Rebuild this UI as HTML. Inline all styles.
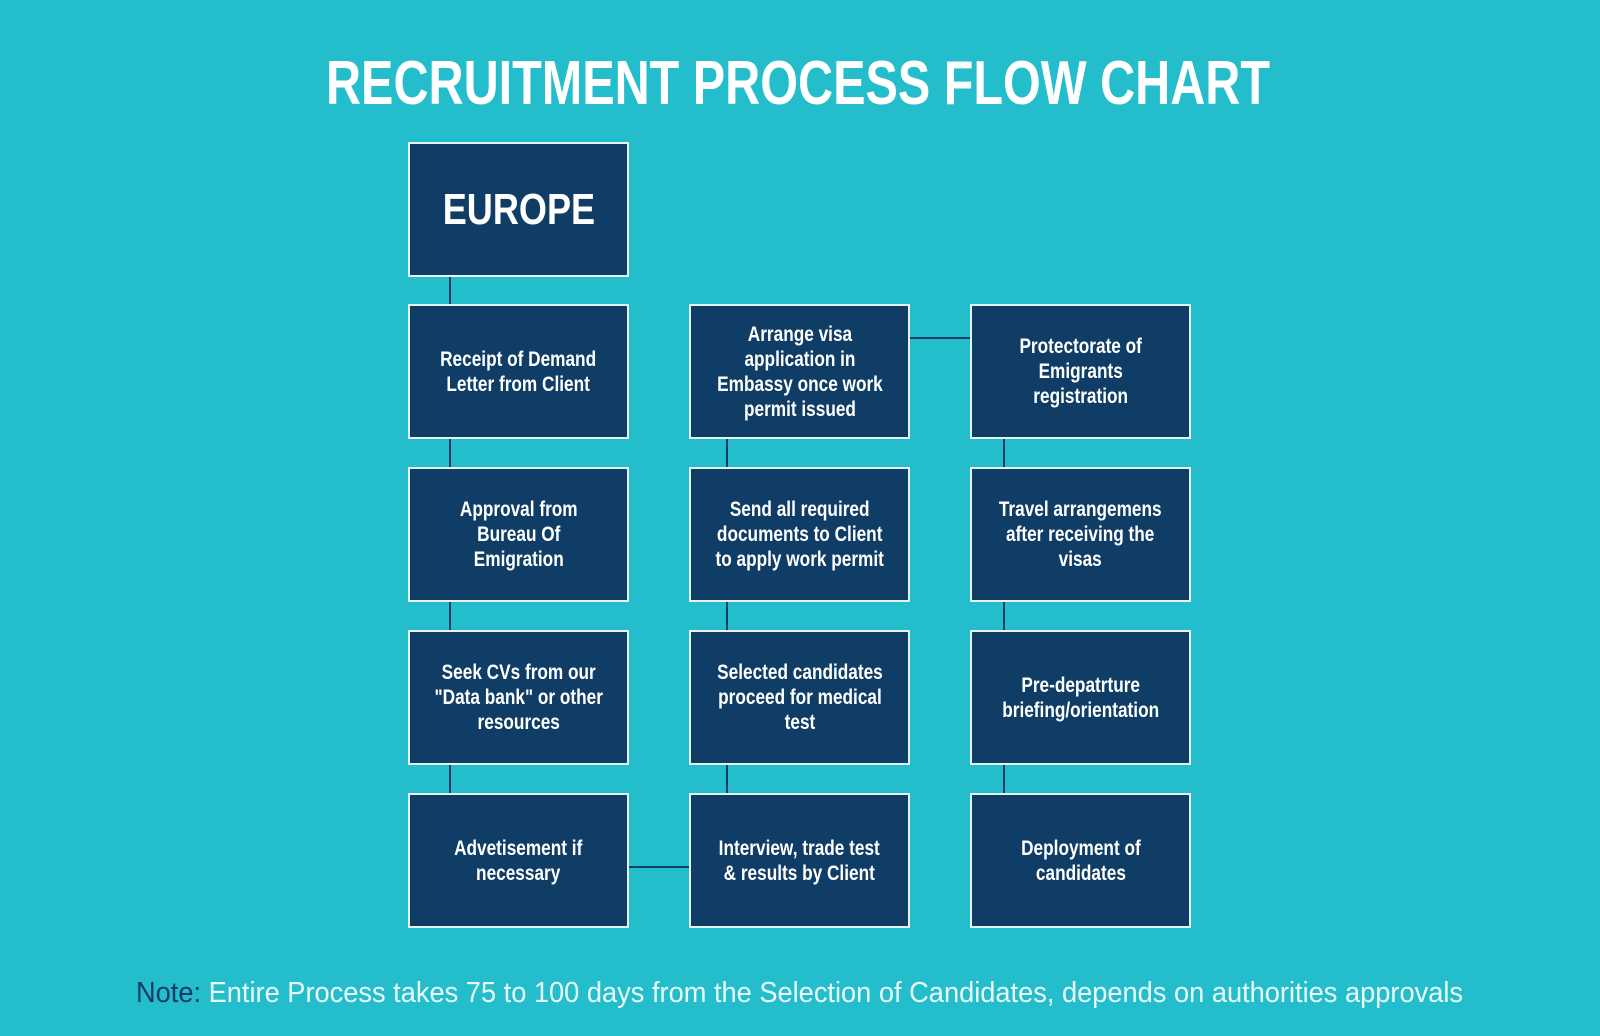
<!DOCTYPE html>
<html><head><meta charset="utf-8"><style>
html,body{margin:0;padding:0}
body{width:1600px;height:1036px;background:#24bdcc;position:relative;overflow:hidden;font-family:"Liberation Sans",sans-serif}
.box{position:absolute;width:217px;height:131px;background:#0f3d66;border:2px solid #e6f4f7;display:flex;align-items:center;justify-content:center;color:#fff;font-weight:bold;text-align:center}
.box span{display:inline-block;font-size:21px;line-height:25px;transform:scaleX(0.82);white-space:nowrap}
.line{position:absolute;background:#0f3d66}
</style></head><body>
<svg width="1600" height="1036" style="position:absolute;left:0;top:0">
<text x="798" y="104" text-anchor="middle" font-family="Liberation Sans" font-weight="bold" font-size="62" fill="#fff" textLength="944" lengthAdjust="spacingAndGlyphs">RECRUITMENT PROCESS FLOW CHART</text>
<text x="136" y="1002" font-family="Liberation Sans" font-size="29" fill="#e8fafc" textLength="1327" lengthAdjust="spacingAndGlyphs"><tspan fill="#0f3d66">Note:</tspan> Entire Process takes 75 to 100 days from the Selection of Candidates, depends on authorities approvals</text>
</svg>
<div class="line" style="left:449px;top:276px;width:2px;height:28px"></div>
<div class="line" style="left:449px;top:439px;width:2px;height:28px"></div>
<div class="line" style="left:449px;top:602px;width:2px;height:28px"></div>
<div class="line" style="left:449px;top:765px;width:2px;height:28px"></div>
<div class="line" style="left:726px;top:439px;width:2px;height:28px"></div>
<div class="line" style="left:726px;top:602px;width:2px;height:28px"></div>
<div class="line" style="left:726px;top:765px;width:2px;height:28px"></div>
<div class="line" style="left:1003px;top:439px;width:2px;height:28px"></div>
<div class="line" style="left:1003px;top:602px;width:2px;height:28px"></div>
<div class="line" style="left:1003px;top:765px;width:2px;height:28px"></div>
<div class="line" style="left:910px;top:337px;width:62px;height:2px"></div>
<div class="line" style="left:629px;top:866px;width:62px;height:2px"></div>

<div class="box" style="left:408px;top:142px"><span style="font-size:44px;line-height:48px">EUROPE</span></div>

<div class="box" style="left:408px;top:304px"><span>Receipt of Demand<br>Letter from Client</span></div>
<div class="box" style="left:408px;top:467px"><span>Approval from<br>Bureau Of<br>Emigration</span></div>
<div class="box" style="left:408px;top:630px"><span>Seek CVs from our<br>"Data bank" or other<br>resources</span></div>
<div class="box" style="left:408px;top:793px"><span>Advetisement if<br>necessary</span></div>

<div class="box" style="left:689px;top:304px"><span>Arrange visa<br>application in<br>Embassy once work<br>permit issued</span></div>
<div class="box" style="left:689px;top:467px"><span>Send all required<br>documents to Client<br>to apply work permit</span></div>
<div class="box" style="left:689px;top:630px"><span>Selected candidates<br>proceed for medical<br>test</span></div>
<div class="box" style="left:689px;top:793px"><span>Interview, trade test<br>&amp; results by Client</span></div>

<div class="box" style="left:970px;top:304px"><span>Protectorate of<br>Emigrants<br>registration</span></div>
<div class="box" style="left:970px;top:467px"><span>Travel arrangemens<br>after receiving the<br>visas</span></div>
<div class="box" style="left:970px;top:630px"><span>Pre-depatrture<br>briefing/orientation</span></div>
<div class="box" style="left:970px;top:793px"><span>Deployment of<br>candidates</span></div>
</body></html>
